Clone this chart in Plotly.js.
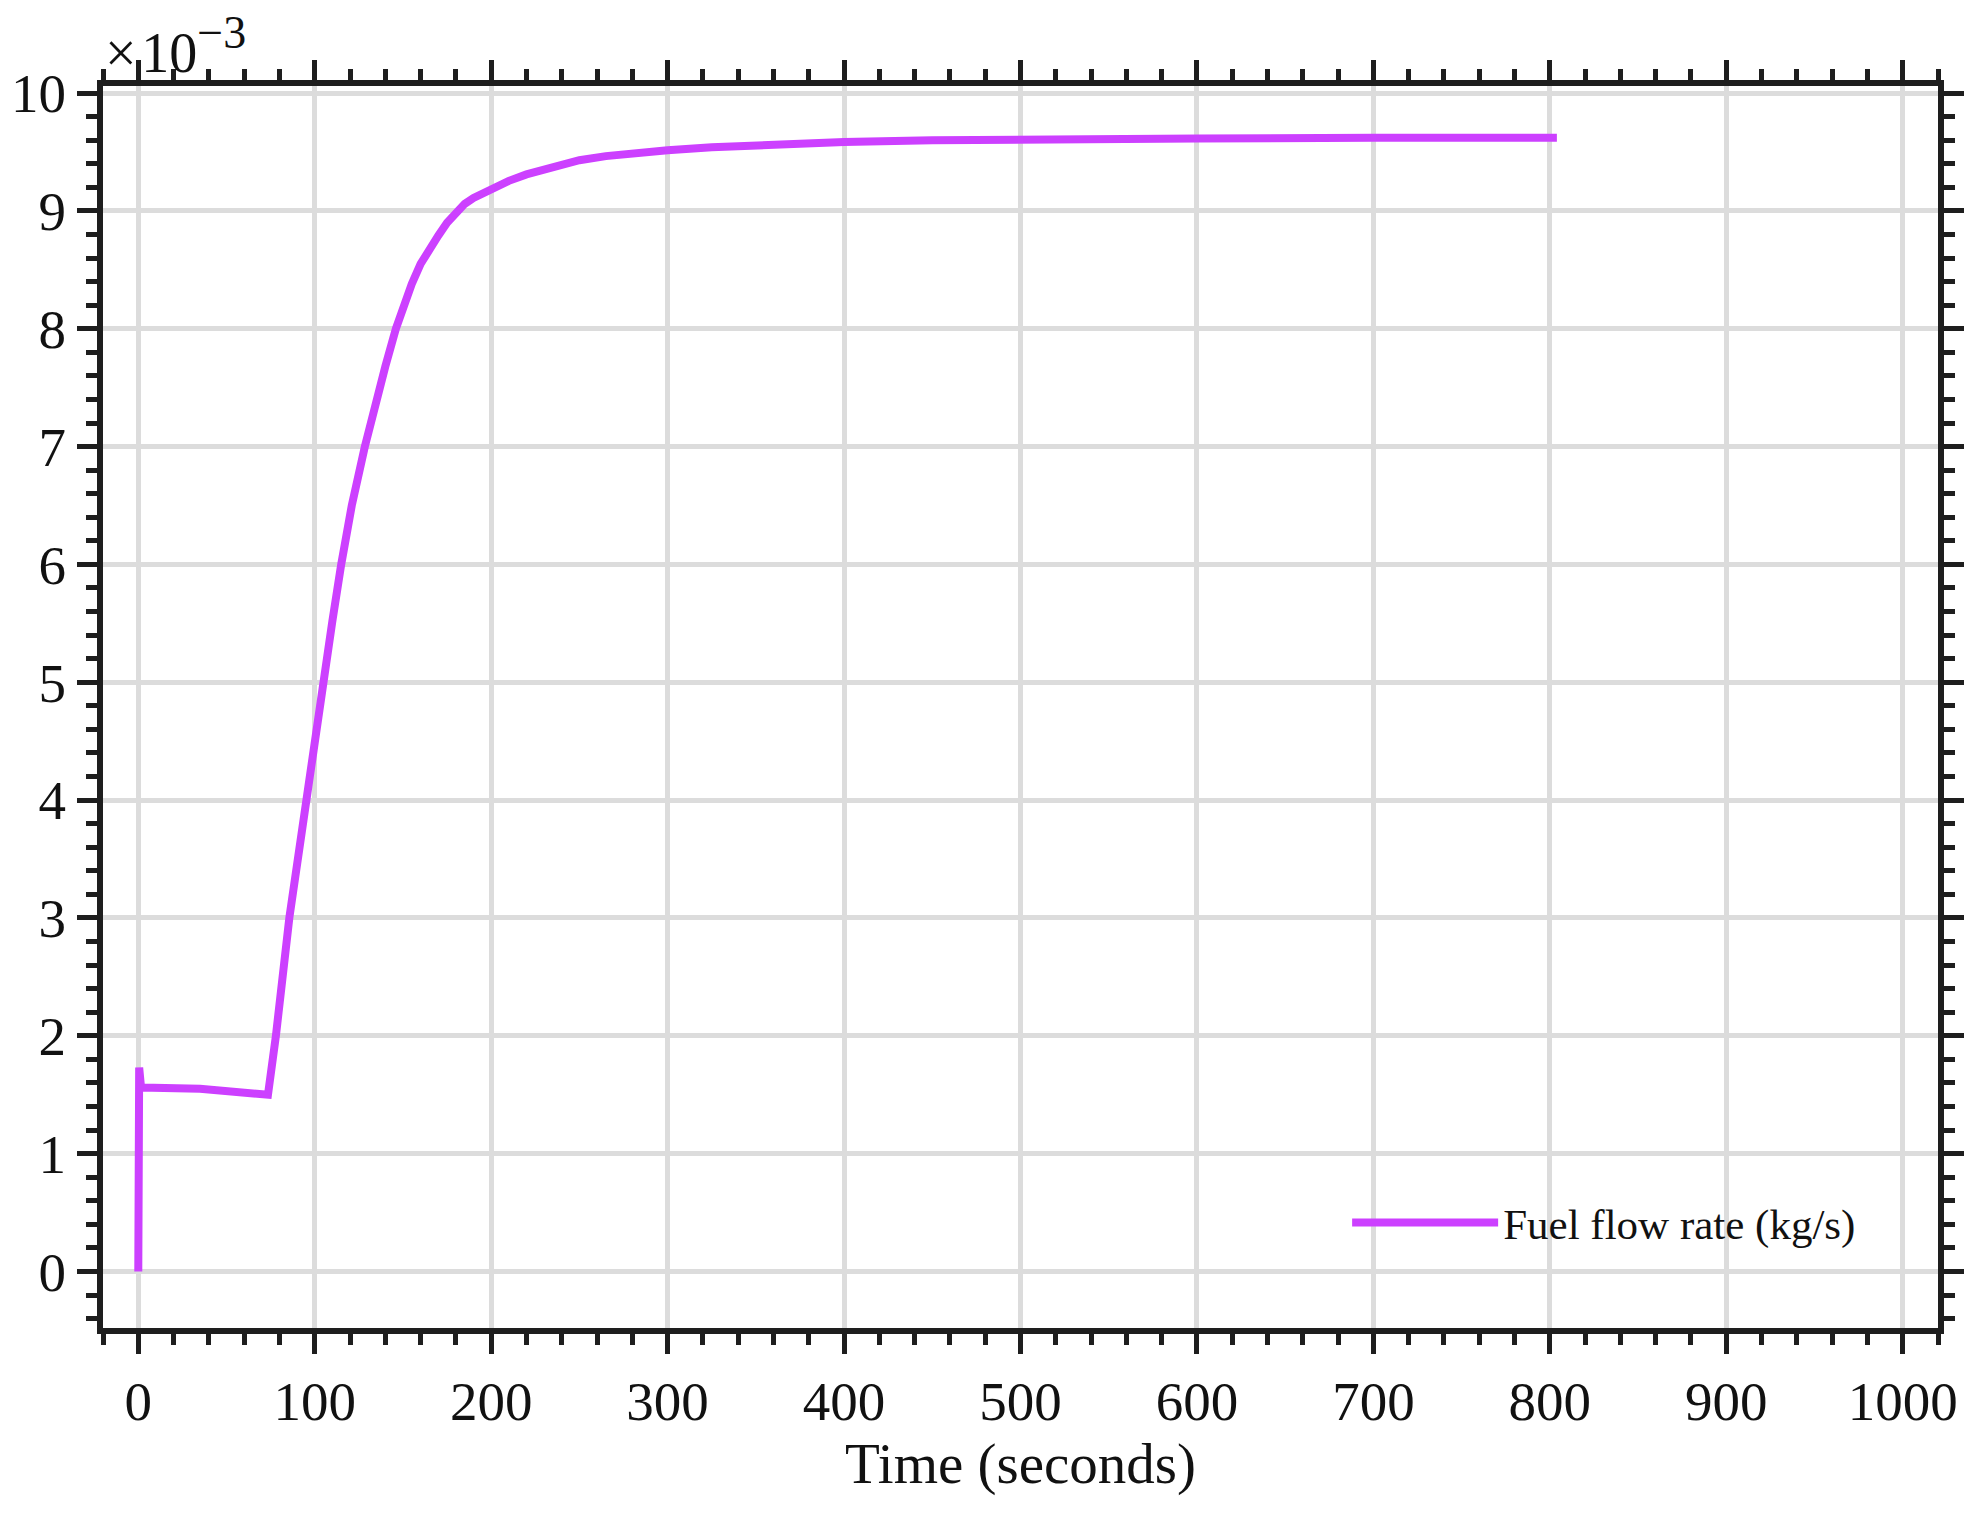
<!DOCTYPE html>
<html>
<head>
<meta charset="utf-8">
<script src="https://cdn.plot.ly/plotly-3.0.1.min.js"></script>
<style>html,body{margin:0;padding:0;background:#fff;}#chart{width:1979px;height:1515px;}</style>
</head>
<body>
<div id="chart"></div>
<script>
// Time (s)
const timeSeconds = [0, 0.5, 1.5, 2, 35, 73.5, 78, 85.6, 95, 104.2, 110, 115, 121, 128.4, 134, 140, 146, 150, 155, 160, 165, 170, 175, 180, 185, 190, 195, 200, 210, 220, 230, 240, 250, 265, 280, 300, 325, 350, 375, 400, 450, 500, 600, 700, 804];
// Fuel flow rate (x10^-3 kg/s)
const fuelFlow = [0, 1.73, 1.57, 1.56, 1.55, 1.50, 2.0, 3.0, 4.0, 5.0, 5.52, 6.0, 6.5, 7.0, 7.35, 7.68, 8.0, 8.18, 8.38, 8.55, 8.68, 8.79, 8.9, 8.99, 9.06, 9.11, 9.15, 9.19, 9.255, 9.31, 9.355, 9.395, 9.43, 9.465, 9.49, 9.515, 9.54, 9.557, 9.572, 9.585, 9.60, 9.61, 9.615, 9.62, 9.62];
const seriesName = 'Fuel flow rate (kg/s)';
const xTickVals = [0, 100, 200, 300, 400, 500, 600, 700, 800, 900, 1000];
const yTickVals = [0, 1, 2, 3, 4, 5, 6, 7, 8, 9, 10];

const FONT = 'Liberation Serif, Times New Roman, serif';
const INK = '#1e1e1e';

const trace = {
  x: timeSeconds, y: fuelFlow, type: 'scatter', mode: 'lines', name: seriesName,
  line: {color: '#cc40ff', width: 8}
};

const axisCommon = {
  showline: true, linecolor: INK, linewidth: 6, mirror: 'allticks',
  ticks: 'outside', ticklen: 20, tickwidth: 5, tickcolor: INK,
  showgrid: true, gridcolor: '#dcdcdc', gridwidth: 5,
  zeroline: false,
  tickfont: {family: FONT, size: 55, color: '#111'}
};

const layout = {
  width: 1979, height: 1515,
  margin: {l: 103, r: 41, t: 86, b: 187},
  paper_bgcolor: '#fff', plot_bgcolor: '#fff',
  font: {family: FONT, color: '#111'},
  showlegend: true,
  legend: {
    x: 0.678, y: 0.085, xanchor: 'left', yanchor: 'middle',
    bgcolor: 'rgba(0,0,0,0)', borderwidth: 0,
    font: {family: FONT, size: 43, color: '#111'},
    itemwidth: 146
  },
  xaxis: Object.assign({}, axisCommon, {
    range: [-20, 1020], tickmode: 'array', tickvals: xTickVals,
    title: {text: 'Time (seconds)', font: {family: FONT, size: 57, color: '#111'}, standoff: 14},
    minor: {dtick: 20, tick0: 0, ticks: 'outside', ticklen: 11, tickwidth: 5, tickcolor: INK, showgrid: false}
  }),
  yaxis: Object.assign({}, axisCommon, {
    range: [-0.48, 10.06], tickmode: 'array', tickvals: yTickVals,
    minor: {dtick: 0.2, tick0: 0, ticks: 'outside', ticklen: 11, tickwidth: 5, tickcolor: INK, showgrid: false}
  }),
  annotations: [{
    xref: 'paper', yref: 'paper', x: 0.0, y: 1.0, xanchor: 'left', yanchor: 'bottom',
    text: '×\u200a10<sup><span style="font-size:46px">−3</span></sup>', showarrow: false,
    font: {family: FONT, size: 56, color: '#111'}
  }]
};

Plotly.newPlot('chart', [trace], layout, {staticPlot: true, displayModeBar: false});
</script>
</body>
</html>
